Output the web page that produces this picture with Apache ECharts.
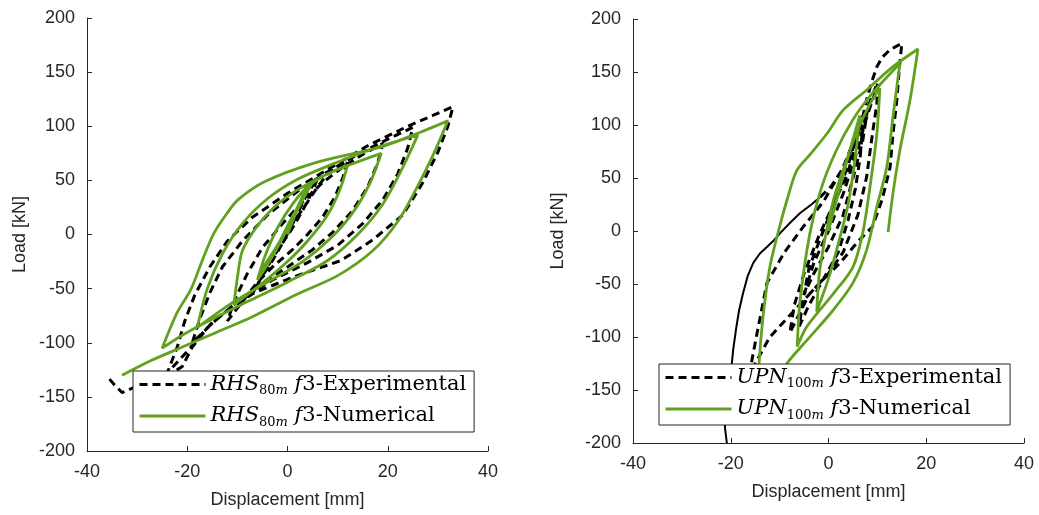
<!DOCTYPE html>
<html>
<head>
<meta charset="utf-8">
<title>Hysteresis RHS / UPN</title>
<script src="https://cdn.jsdelivr.net/npm/echarts@6/dist/echarts.min.js"></script>
<style>
  html, body { margin: 0; padding: 0; background: #fff; }
  #chart { width: 1039px; height: 515px; }
</style>
</head>
<body>
<div id="chart"></div>
<script>
// axis ticks (same for both plots)
const xTicks = [-40, -20, 0, 20, 40];
const yTicks = [-200, -150, -100, -50, 0, 50, 100, 150, 200];

const seriesNames = [
  'RHS80m f3-Experimental',
  'RHS80m f3-Numerical',
  'UPN100m f3-Experimental',
  'UPN100m f3-Numerical'
];

// left plot: RHS 80m, [displacement mm, load kN]
const rhsExp = [
  [0, 0], [2, 20], [4, 38], [6, 52],
  [5, 40], [3, 22], [1, 6], [-1, -8], [-3, -22], [-5, -38], [-7, -55],
  [-5.5, -42], [-3, -24], [-1, -8], [1, 10], [4, 30], [6, 44], [8, 56], [10, 62], [12, 68],
  [11, 52], [9.5, 35], [7, 16], [4, 0], [1, -14], [-3, -30], [-6, -44], [-9, -62], [-12, -80],
  [-10.5, -60], [-8, -36], [-5, -12], [-1, 10], [3, 30], [7, 48], [11, 62], [15, 74], [19, 84],
  [18, 66], [16, 44], [13, 22], [9, 2], [5, -14], [0, -30], [-5, -45], [-10, -62], [-15, -82], [-19, -100],
  [-17.5, -78], [-15.5, -54], [-13, -30], [-9, -6], [-4, 18], [2, 40], [8, 58], [14, 74], [20, 88], [25, 99],
  [24, 80], [22, 56], [19, 32], [15, 10], [10, -10], [4, -26], [-3, -42], [-10, -62], [-16, -86], [-20, -108], [-24, -128],
  [-22, -104], [-20.5, -80], [-18.5, -56], [-15.5, -30], [-12, -6], [-7, 16], [0, 38], [8, 60], [16, 82], [24, 100], [29, 110], [33, 118],
  [32, 100], [30, 76], [27, 48], [23, 18], [17, -5], [10.7, -24], [1.3, -39], [-6.7, -54], [-14.7, -79], [-19, -104], [-21, -122],
  [-25, -134], [-30, -140], [-33, -146], [-34.5, -139], [-36, -131]
];

const rhsNum = [
  [0, 0], [2, 24], [4, 47],
  [2.5, 30], [0, 8], [-2.5, -15], [-4.5, -30], [-6, -42],
  [-4, -28], [-1.5, -8], [1, 15], [3, 35], [5, 48],
  [3.5, 36], [1, 14], [-2, -10], [-4.5, -28], [-6, -42],
  [-4.5, -20], [-2, 6], [1, 28], [4, 44], [8, 56], [12, 64],
  [10.5, 42], [8, 18], [4, -6], [0, -25], [-5, -45], [-10.7, -65],
  [-10, -40], [-9, -15], [-6, 8], [-2, 28], [3, 44], [10, 60], [18.7, 75],
  [16.5, 48], [13, 20], [8.5, -4], [3, -25], [-4, -44], [-11, -63], [-18, -86],
  [-16, -50], [-13, -18], [-9, 10], [-4, 33], [2, 51], [9, 65], [17, 79], [26, 92],
  [23, 62], [19, 28], [14, 0], [8, -24], [0, -44], [-8, -62], [-15, -78], [-21, -93], [-25, -105],
  [-22, -72], [-19.3, -51], [-17, -24], [-14.7, 1], [-12, 20], [-9.9, 32], [-4.7, 48.5], [5.3, 66], [18.7, 81], [26.6, 94.7], [32, 105],
  [29.5, 78], [26, 45], [22, 12], [17, -15], [10, -38], [2, -55], [-7, -76], [-14, -90], [-21, -104], [-27, -116], [-33, -130]
];

// right plot: UPN 100m
const upnExp = [
  [-1.7, 32], [0.5, 42], [2.4, 55], [4.2, 72], [5.8, 92], [7, 108], [7.8, 124], [8.8, 140], [9.9, 155], [11, 164], [12.6, 171], [15, 177],
  [14.5, 154], [14, 124], [13.2, 92], [12.6, 60], [11, 30], [9, 4], [6, -10], [2.4, -30], [-2, -50], [-7, -75], [-12, -100], [-15, -125], [-17, -160],
  [-16, -130], [-14.6, -96], [-12.6, -49], [-9, -20], [-5, 5], [-1, 28], [3, 60], [6, 95], [8.5, 122], [10, 140],
  [9.9, 120], [9, 92], [7.8, 51], [6, 15], [3, -20], [0, -40], [-4, -60], [-7.9, -96],
  [-7, -70], [-5, -40], [-2, -5], [1, 25], [4, 55], [6.4, 98], [8, 115],
  [7, 85], [5, 50], [3, 15], [0, -15], [-3, -40], [-5, -60],
  [-4, -35], [-1.5, -5], [1.5, 30], [4, 62], [5.5, 85], [7, 100],
  [6.5, 70], [5.5, 40], [4, 10], [2, -20], [-1, -45], [-4, -70], [-6, -90],
  [-5, -60], [-3, -30], [0, 0], [3, 35], [5.5, 70], [8, 110], [9.5, 130]
];

// last reloading branch of the test, thin and noisy near the bottom
const upnExpTail = [
  [-20.8, -200], [-21.2, -185], [-20.4, -160], [-20, -135], [-19.5, -112], [-18.9, -92], [-18.3, -75],
  [-17.5, -59], [-16.5, -42], [-15.4, -30], [-14, -21], [-12.6, -15], [-11, -8], [-9.9, -2],
  [-7.8, 8], [-5.8, 17], [-3.5, 25], [-1.7, 32]
];

const upnNum = [
  [0, 0], [2, 35], [4, 70], [6.4, 109],
  [5.5, 70], [4, 25], [2, -12], [0, -45], [-2.4, -76],
  [-1.7, -34], [1, 29], [4.4, 76], [6.4, 100], [8.5, 120], [10.5, 135],
  [9.9, 92], [8.5, 42], [7, -2], [5, -34], [1, -59], [-4.4, -90], [-6.4, -109],
  [-5.8, -65], [-3.8, -2], [-1.5, 40], [1.5, 75], [5, 105], [9, 130], [14.6, 158],
  [13.2, 108], [11.9, 60], [9.9, 23], [7.8, -18], [5, -49], [0.9, -75], [-4.4, -103], [-8.5, -125], [-11.5, -150], [-14.5, -175],
  [-14.2, -125], [-13.4, -81], [-12, -34], [-10, 4], [-8.5, 29], [-6.5, 57], [-3.8, 72], [-0.3, 92], [3, 114], [7.8, 133], [13.2, 155], [18.3, 171.7],
  [16.7, 124], [14.6, 76], [13.2, 36], [12.2, -1]
];

const GREEN = '#62a01f';
const AXIS = '#262626';

const chart = echarts.init(document.getElementById('chart'));

function makeX(gridIndex) {
  return {
    gridIndex: gridIndex,
    type: 'value',
    min: xTicks[0],
    max: xTicks[xTicks.length - 1],
    interval: 20,
    name: 'Displacement [mm]',
    nameLocation: 'middle',
    nameGap: 40,
    nameTextStyle: { fontFamily: 'Liberation Sans', fontSize: 18, color: AXIS },
    axisLine: { onZero: false, lineStyle: { color: AXIS, width: 1 } },
    axisTick: { inside: true, length: 5, lineStyle: { color: AXIS } },
    axisLabel: { fontFamily: 'Liberation Sans', fontSize: 18, color: AXIS, margin: 12 },
    splitLine: { show: false }
  };
}

function makeY(gridIndex, gap) {
  return {
    gridIndex: gridIndex,
    type: 'value',
    min: yTicks[0],
    max: yTicks[yTicks.length - 1],
    interval: 50,
    name: 'Load [kN]',
    nameLocation: 'middle',
    nameGap: gap,
    nameTextStyle: { fontFamily: 'Liberation Sans', fontSize: 18, color: AXIS },
    axisLine: { onZero: false, lineStyle: { color: AXIS, width: 1 } },
    axisTick: { inside: true, length: 5, lineStyle: { color: AXIS } },
    axisLabel: { fontFamily: 'Liberation Sans', fontSize: 18, color: AXIS, margin: 12 },
    splitLine: { show: false }
  };
}

const legendRich = {
  i: { fontFamily: 'DejaVu Serif', fontStyle: 'italic', fontSize: 21, color: '#000', lineHeight: 26 },
  s: { fontFamily: 'DejaVu Serif', fontSize: 13, color: '#000', lineHeight: 15, verticalAlign: 'bottom' },
  si: { fontFamily: 'DejaVu Serif', fontStyle: 'italic', fontSize: 13, color: '#000', lineHeight: 15, verticalAlign: 'bottom' },
  n: { fontFamily: 'DejaVu Serif', fontSize: 21, color: '#000', lineHeight: 26 }
};

function legendText(name) {
  const parts = name.split(' ');
  const label = parts[0];
  const sec = label.slice(0, 3);
  const sub = label.slice(3, -1);
  const kind = parts[1].slice(2);
  return '{i|' + sec + '}{s|' + sub + '}{si|m}{n| }{i|f}{n|3' + kind + '}';
}

function makeLegend(names, left, top) {
  return {
    data: names,
    orient: 'vertical',
    left: left,
    top: top,
    itemWidth: 66,
    itemHeight: 14,
    itemGap: 8,
    padding: [3, 8, 3, 5],
    borderColor: AXIS,
    borderWidth: 1,
    backgroundColor: '#fff',
    selectedMode: false,
    itemStyle: { opacity: 0 },
    lineStyle: { width: 3 },
    formatter: legendText,
    textStyle: { fontFamily: 'DejaVu Serif', fontSize: 21, color: '#000', rich: legendRich }
  };
}

const option = {
  animation: false,
  backgroundColor: '#fff',
  grid: [
    { left: 87, top: 18, width: 401, height: 433 },
    { left: 633, top: 19, width: 391, height: 424 }
  ],
  xAxis: [makeX(0), makeX(1)],
  yAxis: [makeY(0, 58), makeY(1, 66)],
  legend: [
    makeLegend([seriesNames[0], seriesNames[1]], 133, 371),
    makeLegend([seriesNames[2], seriesNames[3]], 659, 364)
  ],
  series: [
    {
      name: seriesNames[0], type: 'line', xAxisIndex: 0, yAxisIndex: 0,
      data: rhsExp, symbol: 'none', z: 2,
      itemStyle: { color: '#000' },
      lineStyle: { color: '#000', width: 3, type: [8, 5] }
    },
    {
      name: seriesNames[1], type: 'line', xAxisIndex: 0, yAxisIndex: 0,
      data: rhsNum, symbol: 'none', smooth: 0.3, z: 3,
      itemStyle: { color: GREEN },
      lineStyle: { color: GREEN, width: 2.8 }
    },
    {
      name: seriesNames[2], type: 'line', xAxisIndex: 1, yAxisIndex: 1,
      data: upnExp, symbol: 'none', z: 2,
      itemStyle: { color: '#000' },
      lineStyle: { color: '#000', width: 3, type: [8, 5] }
    },
    {
      name: 'UPN100m tail', type: 'line', xAxisIndex: 1, yAxisIndex: 1,
      data: upnExpTail, symbol: 'none', z: 2,
      itemStyle: { color: '#000' },
      lineStyle: { color: '#000', width: 2 }
    },
    {
      name: seriesNames[3], type: 'line', xAxisIndex: 1, yAxisIndex: 1,
      data: upnNum, symbol: 'none', smooth: 0.3, z: 3,
      itemStyle: { color: GREEN },
      lineStyle: { color: GREEN, width: 2.8 }
    }
  ]
};

chart.setOption(option);
</script>
</body>
</html>
